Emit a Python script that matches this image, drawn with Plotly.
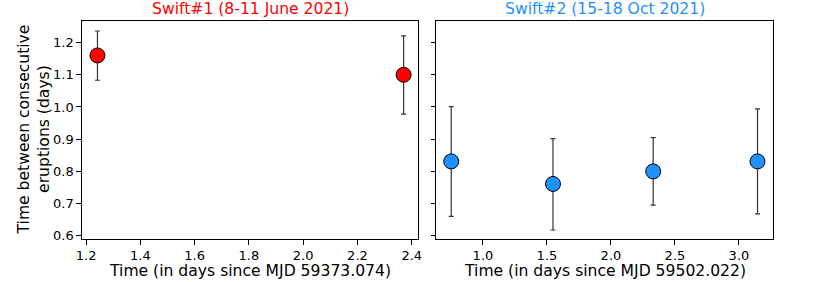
import plotly.graph_objects as go

# Swift#1 data
x1 = [1.242, 2.37]
y1 = [1.16, 1.10]
y1_up = [1.236, 1.221]
y1_lo = [1.083, 0.978]

# Swift#2 data
x2 = [0.752, 1.547, 2.33, 3.145]
y2 = [0.831, 0.761, 0.800, 0.831]
y2_up = [1.001, 0.902, 0.905, 0.994]
y2_lo = [0.660, 0.618, 0.695, 0.668]

title1 = "Swift#1 (8-11 June 2021)"
title2 = "Swift#2 (15-18 Oct 2021)"
xlabel1 = "Time (in days since MJD 59373.074)"
xlabel2 = "Time (in days since MJD 59502.022)"
ylabel = "Time between consecutive<br>eruptions (days)"

x1_ticks = [1.2, 1.4, 1.6, 1.8, 2.0, 2.2, 2.4]
x2_ticks = [1.0, 1.5, 2.0, 2.5, 3.0]
y_ticks = [0.6, 0.7, 0.8, 0.9, 1.0, 1.1, 1.2]

FONT = "DejaVu Sans"
LBL = 15.6
TCK = 13
fig = go.Figure()

def add(x, y, up, lo, color, xa, ya):
    fig.add_trace(go.Scatter(
        x=x, y=y, mode="markers", xaxis=xa, yaxis=ya,
        marker=dict(size=15, color=color, line=dict(color="black", width=1)),
        error_y=dict(type="data", symmetric=False,
                     array=[u - v for u, v in zip(up, y)],
                     arrayminus=[v - l for v, l in zip(y, lo)],
                     color="#333333", thickness=1.2, width=2.5),
        showlegend=False))

add(x1, y1, y1_up, y1_lo, "#ff0000", "x", "y")
add(x2, y2, y2_up, y2_lo, "#1e90ff", "x2", "y2")

axcommon = dict(showline=True, mirror=True, linecolor="black", linewidth=1.3,
                ticks="outside", ticklen=4.5, tickwidth=1, tickcolor="black",
                showgrid=False, zeroline=False, automargin=False,
                tickfont=dict(family=FONT, size=TCK, color="black"))

L, R, T, B = 81.5, 773, 20.5, 239.5
W, H = 822, 282
fig.update_layout(
    width=W, height=H,
    margin=dict(l=L, r=W - R, t=T, b=H - B),
    paper_bgcolor="white", plot_bgcolor="white",
    font=dict(family=FONT, size=TCK, color="black"),
    xaxis=dict(domain=[0, (418 - L) / (R - L)], range=[1.185, 2.424], tickvals=x1_ticks,
               ticktext=[f"{v:.1f}" for v in x1_ticks], anchor="y", **axcommon),
    xaxis2=dict(domain=[(436 - L) / (R - L), 1], range=[0.635, 3.266], tickvals=x2_ticks,
                ticktext=[f"{v:.1f}" for v in x2_ticks], anchor="y2", **axcommon),
    yaxis=dict(anchor="x", range=[0.590, 1.267], tickvals=y_ticks,
               ticktext=[f"{v:.1f}" for v in y_ticks], **axcommon),
    yaxis2=dict(anchor="x2", range=[0.590, 1.267], tickvals=y_ticks,
                showticklabels=False, **axcommon),
)

x1c = ((418 - L) / (R - L)) / 2
x2c = ((436 - L) / (R - L) + 1) / 2
ann = [
    dict(text=title1, x=x1c, y=1.0, yanchor="bottom", yshift=1, font=dict(size=LBL, color="#ff0000")),
    dict(text=title2, x=x2c, y=1.0, yanchor="bottom", yshift=1, font=dict(size=LBL, color="#1e90ff")),
    dict(text=xlabel1, x=x1c, y=0, yanchor="middle", yshift=-32, font=dict(size=LBL, color="black")),
    dict(text=xlabel2, x=x2c, y=0, yanchor="middle", yshift=-32, font=dict(size=LBL, color="black")),
    dict(text=ylabel, x=0, y=0.5, xanchor="center", yanchor="middle", xshift=-48.5, textangle=-90,
         font=dict(size=LBL, color="black")),
]
for a in ann:
    a.update(xref="paper", yref="paper", showarrow=False, xanchor=a.get("xanchor", "center"))
    a["font"]["family"] = FONT
fig.update_layout(annotations=ann)

fig.write_html("out.html", config={"displayModeBar": False},
               post_script="document.body.style.margin='0';")
